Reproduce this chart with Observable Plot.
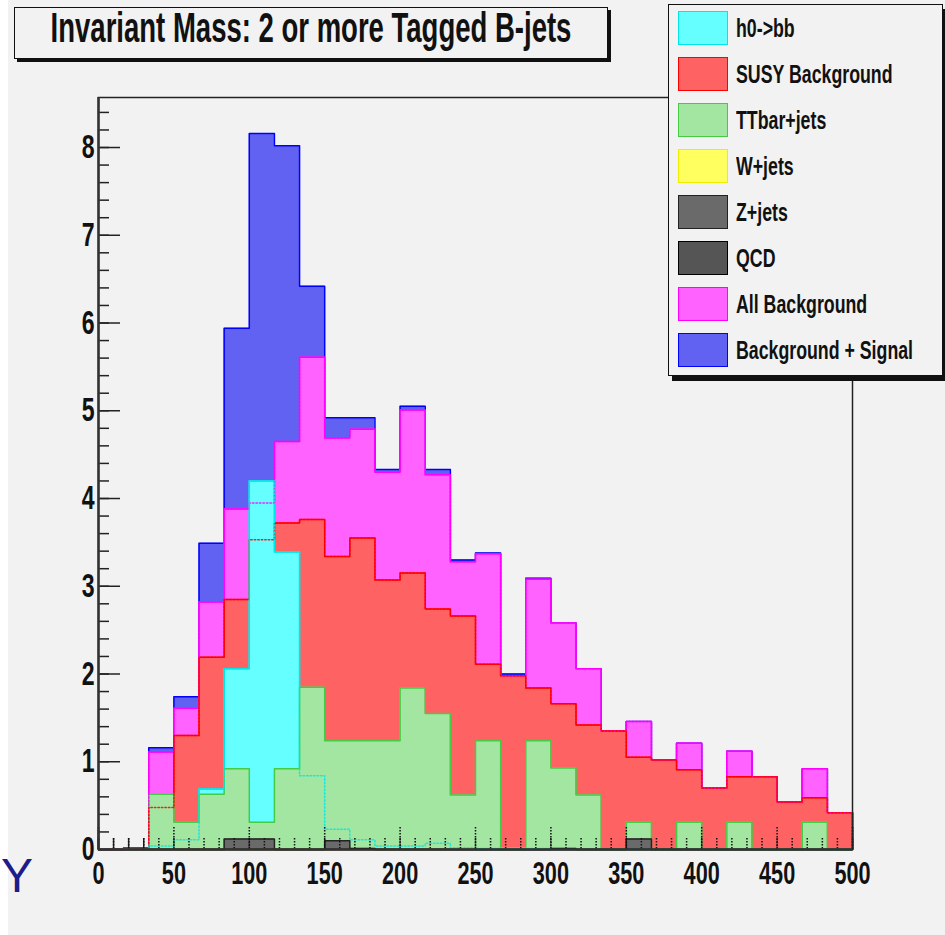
<!DOCTYPE html>
<html>
<head>
<meta charset="utf-8">
<script src="https://cdn.jsdelivr.net/npm/d3@7"></script>
<script src="https://cdn.jsdelivr.net/npm/@observablehq/plot@0.6"></script>
<style>
  html, body { margin: 0; padding: 0; background: #ffffff; }
  #wrap { position: relative; width: 945px; height: 935px; overflow: hidden; font-family: "Liberation Sans", Arial, Helvetica, sans-serif; }
  #panel { position: absolute; left: 8px; top: 0; right: 0; bottom: 0; background: #f2f2f2; }
  #chart { position: absolute; left: 0; top: 0; }
  .box { position: absolute; background: #f2f2f2; border: 1.5px solid #111; box-sizing: border-box; }
  .ctext { position: absolute; white-space: nowrap; font-weight: bold; color: #111; }
  .sw { position: absolute; box-sizing: border-box; border: 1.5px solid; }
  .lt { position: absolute; white-space: nowrap; font-weight: bold; font-size: 25px; line-height: 34px; height: 34px; color: #111; transform: scaleX(0.71); transform-origin: 0 50%; }
</style>
</head>
<body>
<div id="wrap">
  <div id="panel"></div>
  <div id="chart"></div>
</div>
<script>
// ---- data (30 bins from 0 to 500) ----
const nBins = 30, xMin = 0, xMax = 500;
const h0bb   = [0,0,0.04,0.11,0.69,2.06,4.20,3.39,0.84,0.23,0.11,0.04,0.04,0.07,0.02,0.01,0.02,0.01,0,0,0,0,0,0,0,0,0,0,0,0];
const susy   = [0,0.02,0.48,1.30,2.19,2.85,3.53,3.72,3.76,3.34,3.55,3.07,3.15,2.74,2.66,2.11,1.98,1.84,1.66,1.42,1.35,1.05,1.02,0.91,0.70,0.83,0.83,0.54,0.59,0.42];
const ttbar  = [0,0,0.63,0.31,0.63,0.92,0.31,0.92,1.85,1.24,1.24,1.24,1.84,1.55,0.62,1.24,0,1.24,0.93,0.62,0,0.31,0,0.31,0,0.31,0,0,0.31,0];
const wjets  = [0,0,0,0,0,0,0,0,0,0,0,0,0,0,0,0,0,0,0,0,0,0,0,0,0,0,0,0,0,0];
const zjets  = [0,0,0,0,0,0.12,0.12,0,0,0.10,0,0,0,0,0,0,0,0,0,0,0,0.12,0,0,0,0,0,0,0,0];
const qcd    = [0,0,0,0,0,0,0,0,0,0,0.01,0,0,0,0,0,0,0,0.01,0,0,0,0,0,0,0,0,0,0,0];
const allBkg = [0,0.02,1.11,1.61,2.82,3.88,3.95,4.65,5.61,4.69,4.79,4.30,5.01,4.27,3.28,3.37,1.98,3.08,2.58,2.06,1.35,1.46,1.02,1.21,0.70,1.12,0.83,0.54,0.92,0.42];
const bkgSig = [0,0.02,1.16,1.74,3.49,5.94,8.16,8.02,6.42,4.92,4.92,4.33,5.05,4.33,3.30,3.38,2.00,3.09,2.58,2.06,1.35,1.46,1.02,1.21,0.70,1.12,0.83,0.54,0.92,0.42];

const xMajorTicks = [0,50,100,150,200,250,300,350,400,450,500];
const xMinorTicks = d3.range(0, 501, 10);
const yMajorTicks = [0,1,2,3,4,5,6,7,8];
const yMinorTicks = d3.range(0, 8.5, 0.2);

const titleText = "Invariant Mass: 2 or more Tagged B-jets";

const series = {
  h0bb:   {name: "h0->bb",              values: h0bb,   fill: "#66ffff", stroke: "#00e6e6"},
  susy:   {name: "SUSY Background",     values: susy,   fill: "#ff6262", stroke: "#ff0000"},
  ttbar:  {name: "TTbar+jets",          values: ttbar,  fill: "#a2e6a2", stroke: "#44cc44"},
  wjets:  {name: "W+jets",              values: wjets,  fill: "#ffff60", stroke: "#eeee00"},
  zjets:  {name: "Z+jets",              values: zjets,  fill: "#6a6a6a", stroke: "#222222"},
  qcd:    {name: "QCD",                 values: qcd,    fill: "#555555", stroke: "#000000"},
  allBkg: {name: "All Background",      values: allBkg, fill: "#ff62ff", stroke: "#ff00ff"},
  bkgSig: {name: "Background + Signal", values: bkgSig, fill: "#6262f2", stroke: "#0000ff"}
};
const drawOrder = ["bkgSig","allBkg","susy","h0bb","ttbar","wjets","zjets","qcd"];
const legendOrder = ["h0bb","susy","ttbar","wjets","zjets","qcd","allBkg","bkgSig"];
const seeThrough = ["allBkg","susy","h0bb"];

// ---- layout ----
const W = 945, H = 935;
const mL = 98, mR = 93, mT = 97, mB = 86;
const frameW = W - mL - mR, frameH = H - mT - mB;
const bw = (xMax - xMin) / nBins;

function stepPoints(values) {
  const pts = [{x: xMin, y: 0}];
  values.forEach((v, i) => {
    pts.push({x: xMin + i * bw, y: v});
    pts.push({x: xMin + (i + 1) * bw, y: v});
  });
  pts.push({x: xMax, y: 0});
  return pts;
}

const marks = [];
// ticks (solid, under fills)
marks.push(Plot.tickX(xMinorTicks, {x: d => d, stroke: "#222", strokeWidth: 1.5, insetTop: frameH - 11}));
marks.push(Plot.tickX(xMajorTicks, {x: d => d, stroke: "#222", strokeWidth: 1.5, insetTop: frameH - 22}));
marks.push(Plot.tickY(yMinorTicks, {y: d => d, stroke: "#222", strokeWidth: 1.5, insetRight: frameW - 11}));
marks.push(Plot.tickY(yMajorTicks, {y: d => d, stroke: "#222", strokeWidth: 1.5, insetRight: frameW - 22}));

for (const key of drawOrder) {
  const s = series[key];
  const pts = stepPoints(s.values);
  marks.push(Plot.area(pts, {x1: "x", y1: 0, y2: "y", fill: s.fill, curve: "linear"}));
  marks.push(Plot.line(pts, {x: "x", y: "y", stroke: s.stroke, strokeWidth: 1.5, curve: "linear"}));
}
// hidden outlines showing through the pattern fills
for (const key of seeThrough) {
  const s = series[key];
  marks.push(Plot.line(stepPoints(s.values), {x: "x", y: "y", stroke: s.stroke, strokeWidth: 1.5, strokeDasharray: "1.5,2", strokeOpacity: 0.85}));
}
// ticks showing through fills (dotted)
marks.push(Plot.tickX(xMinorTicks, {x: d => d, stroke: "#111", strokeWidth: 1.5, strokeDasharray: "1.5,1.5", insetTop: frameH - 11}));
marks.push(Plot.tickX(xMajorTicks, {x: d => d, stroke: "#111", strokeWidth: 1.5, strokeDasharray: "1.5,1.5", insetTop: frameH - 22}));

marks.push(Plot.frame({stroke: "#222", strokeWidth: 1.5}));
marks.push(Plot.ruleX([xMin], {stroke: "#333", strokeWidth: 2.5}));
marks.push(Plot.ruleY([0], {stroke: "#333", strokeWidth: 2.5}));
marks.push(Plot.axisX({ticks: xMajorTicks, tickSize: 0, tickPadding: 12, fontSize: 31, fontWeight: "bold", label: null, tickFormat: d => String(d), fill: "#111"}));
marks.push(Plot.axisY({ticks: yMajorTicks, tickSize: 0, tickPadding: 4, fontSize: 33, fontWeight: "bold", label: null, tickFormat: d => String(d), fill: "#111"}));

const chart = Plot.plot({
  width: W, height: H,
  marginLeft: mL, marginRight: mR, marginTop: mT, marginBottom: mB,
  x: {domain: [xMin, xMax]},
  y: {domain: [0, 8.57]},
  style: {background: "transparent", fontFamily: "'Liberation Sans', Arial, Helvetica, sans-serif", fontWeight: "bold", overflow: "visible"},
  marks
});
document.getElementById("chart").appendChild(chart);

// condense tick labels horizontally (ROOT-like narrow bold font)
chart.querySelectorAll('g[aria-label$="tick label"] text').forEach(t => {
  let tr = t.getAttribute("transform");
  if (!tr) {
    const x = t.getAttribute("x") || 0, y = t.getAttribute("y") || 0;
    t.removeAttribute("x"); t.removeAttribute("y");
    tr = `translate(${x},${y})`;
  }
  t.setAttribute("transform", tr + " scale(0.7,1)");
});

// ---- title box ----
const wrap = document.getElementById("wrap");
const tbox = document.createElement("div");
tbox.className = "box";
Object.assign(tbox.style, {left: "14px", top: "7px", width: "594px", height: "52px", boxShadow: "3px 3px 0 #111"});
const tt = document.createElement("div");
tt.className = "ctext";
tt.textContent = titleText;
Object.assign(tt.style, {left: "50%", top: "-1px", fontSize: "42px", lineHeight: "42px", transform: "translateX(-50%) scaleX(0.655)"});
tbox.appendChild(tt);
wrap.appendChild(tbox);

// ---- legend ----
const lbox = document.createElement("div");
lbox.className = "box";
Object.assign(lbox.style, {left: "668px", top: "4px", width: "275px", height: "372px", boxShadow: "4px 5px 0 #111"});
wrap.appendChild(lbox);
legendOrder.forEach((key, i) => {
  const s = series[key];
  const cy = 27.5 + i * 46.1;
  const sw = document.createElement("div");
  sw.className = "sw";
  Object.assign(sw.style, {left: "678px", top: (cy - 17) + "px", width: "50px", height: "34px", background: s.fill, borderColor: s.stroke});
  wrap.appendChild(sw);
  const lt = document.createElement("div");
  lt.className = "lt";
  lt.textContent = s.name;
  Object.assign(lt.style, {left: "736px", top: (cy - 17) + "px"});
  wrap.appendChild(lt);
});

// stray letter at lower left
const ylet = document.createElement("div");
ylet.textContent = "Y";
Object.assign(ylet.style, {position: "absolute", left: "1px", top: "852px", fontSize: "48px", lineHeight: "48px", color: "#1c1c8a", fontWeight: "normal"});
wrap.appendChild(ylet);
</script>
</body>
</html>
